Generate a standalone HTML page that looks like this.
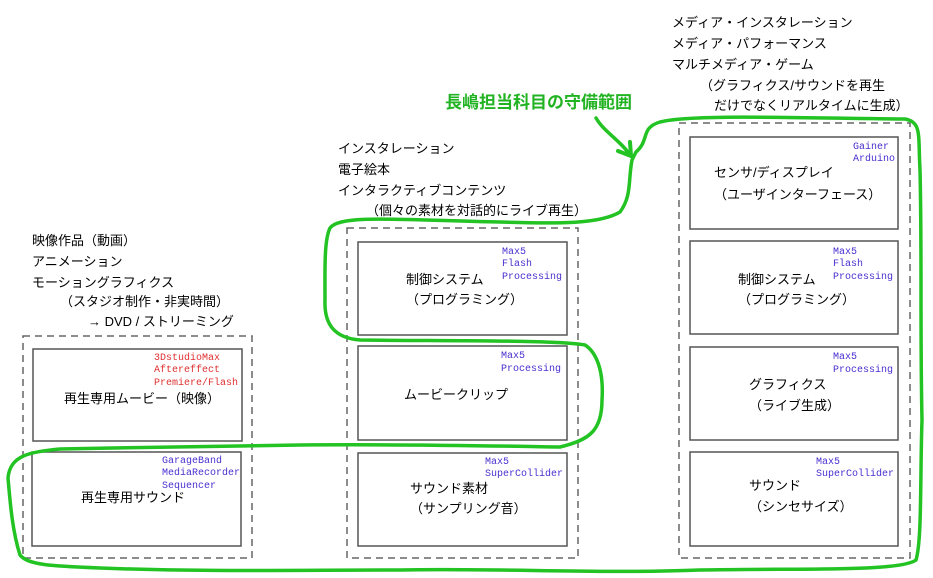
<!DOCTYPE html>
<html><head><meta charset="utf-8"><style>
html,body{margin:0;padding:0;background:#fff;}
svg{display:block}
.j{font-family:"Liberation Sans","Noto Sans CJK JP",sans-serif;font-size:13px;fill:#000}
.m{font-family:"Liberation Mono",monospace;font-size:10px;fill:#4a2fd0}
.r{fill:#e03030}
</style></head><body>
<svg width="933" height="578" viewBox="0 0 933 578" xmlns="http://www.w3.org/2000/svg">
<g fill="none" stroke="#666" stroke-width="1.5" stroke-dasharray="7,5">
<rect x="23" y="336" width="229" height="222"/>
<rect x="347" y="228" width="231" height="330"/>
<rect x="679" y="123" width="231" height="435"/>
</g>
<g fill="none" stroke="#555" stroke-width="1.5">
<rect x="33" y="349" width="209" height="92"/>
<rect x="32" y="452" width="209" height="94"/>
<rect x="358" y="242" width="209" height="93"/>
<rect x="358" y="346" width="209" height="94"/>
<rect x="358" y="453" width="209" height="93"/>
<rect x="690" y="137" width="208" height="92"/>
<rect x="690" y="241" width="208" height="93"/>
<rect x="690" y="347" width="208" height="93"/>
<rect x="690" y="452" width="208" height="94"/>
</g>
<g fill="none" stroke="#22c322" stroke-width="3.5" stroke-linejoin="round" stroke-linecap="round">
<path d="M636,152 C650,140 640,128 660,122 C690,114 800,118 905,119 C922,122 918,135 920,170 C922,250 920,330 922,420 C920,480 922,540 916,560 C900,572 800,568 700,570 C600,574 500,568 400,570 C300,570 200,572 100,568 C50,566 28,565 20,555 C12,530 10,500 8,478 C10,455 30,452 60,449 C150,447 250,446 300,445 C400,444 500,446 560,447 C590,440 602,430 602,400 C604,370 596,352 585,345 C560,340 450,341 360,340 C335,338 324,325 325,300 C325,270 324,240 330,228 C340,214 400,220 500,222 C560,224 600,224 620,212 C632,196 628,180 632,160 Z"/>
<path d="M596,118 C604,132 620,140 630,155" />
<path d="M618,151 L631,156 L630,142" stroke-width="4"/>
</g>
<text x="445" y="108" font-family="Liberation Sans,Noto Sans CJK JP,sans-serif" font-size="17" font-weight="bold" fill="#22b322">長嶋担当科目の守備範囲</text>
<g class="j">
<text x="32" y="245">映像作品（動画）</text>
<text x="32" y="266">アニメーション</text>
<text x="32" y="287">モーショングラフィクス</text>
<text x="60" y="306">（スタジオ制作・非実時間）</text>
<text x="88" y="326">→ DVD / ストリーミング</text>
<text x="338" y="153">インスタレーション</text>
<text x="338" y="174">電子絵本</text>
<text x="338" y="195">インタラクティブコンテンツ</text>
<text x="366" y="215">（個々の素材を対話的にライブ再生）</text>
<text x="672" y="27">メディア・インスタレーション</text>
<text x="672" y="48">メディア・パフォーマンス</text>
<text x="672" y="69">マルチメディア・ゲーム</text>
<text x="700" y="90">（グラフィクス/サウンドを再生</text>
<text x="714" y="110">だけでなくリアルタイムに生成）</text>
<text x="64" y="403">再生専用ムービー（映像）</text>
<text x="81" y="502">再生専用サウンド</text>
<text x="406" y="284">制御システム</text>
<text x="406" y="304">（プログラミング）</text>
<text x="404" y="399">ムービークリップ</text>
<text x="410" y="493">サウンド素材</text>
<text x="410" y="513">（サンプリング音）</text>
<text x="714" y="177">センサ/ディスプレイ</text>
<text x="714" y="199">（ユーザインターフェース）</text>
<text x="738" y="284">制御システム</text>
<text x="738" y="304">（プログラミング）</text>
<text x="749" y="389">グラフィクス</text>
<text x="749" y="410">（ライブ生成）</text>
<text x="749" y="490">サウンド</text>
<text x="749" y="511">（シンセサイズ）</text>
</g>
<g class="m">
<text class="m r" x="154" y="360">3DstudioMax</text>
<text class="m r" x="154" y="372">Aftereffect</text>
<text class="m r" x="154" y="385">Premiere/Flash</text>
<text x="162" y="463">GarageBand</text>
<text x="162" y="475">MediaRecorder</text>
<text x="162" y="488">Sequencer</text>
<text x="502" y="254">Max5</text>
<text x="502" y="266">Flash</text>
<text x="502" y="279">Processing</text>
<text x="501" y="358">Max5</text>
<text x="501" y="371">Processing</text>
<text x="485" y="464">Max5</text>
<text x="485" y="476">SuperCollider</text>
<text x="853" y="149">Gainer</text>
<text x="853" y="161">Arduino</text>
<text x="833" y="254">Max5</text>
<text x="833" y="266">Flash</text>
<text x="833" y="279">Processing</text>
<text x="833" y="359">Max5</text>
<text x="833" y="372">Processing</text>
<text x="816" y="464">Max5</text>
<text x="816" y="476">SuperCollider</text>
</g>
</svg>
</body></html>
